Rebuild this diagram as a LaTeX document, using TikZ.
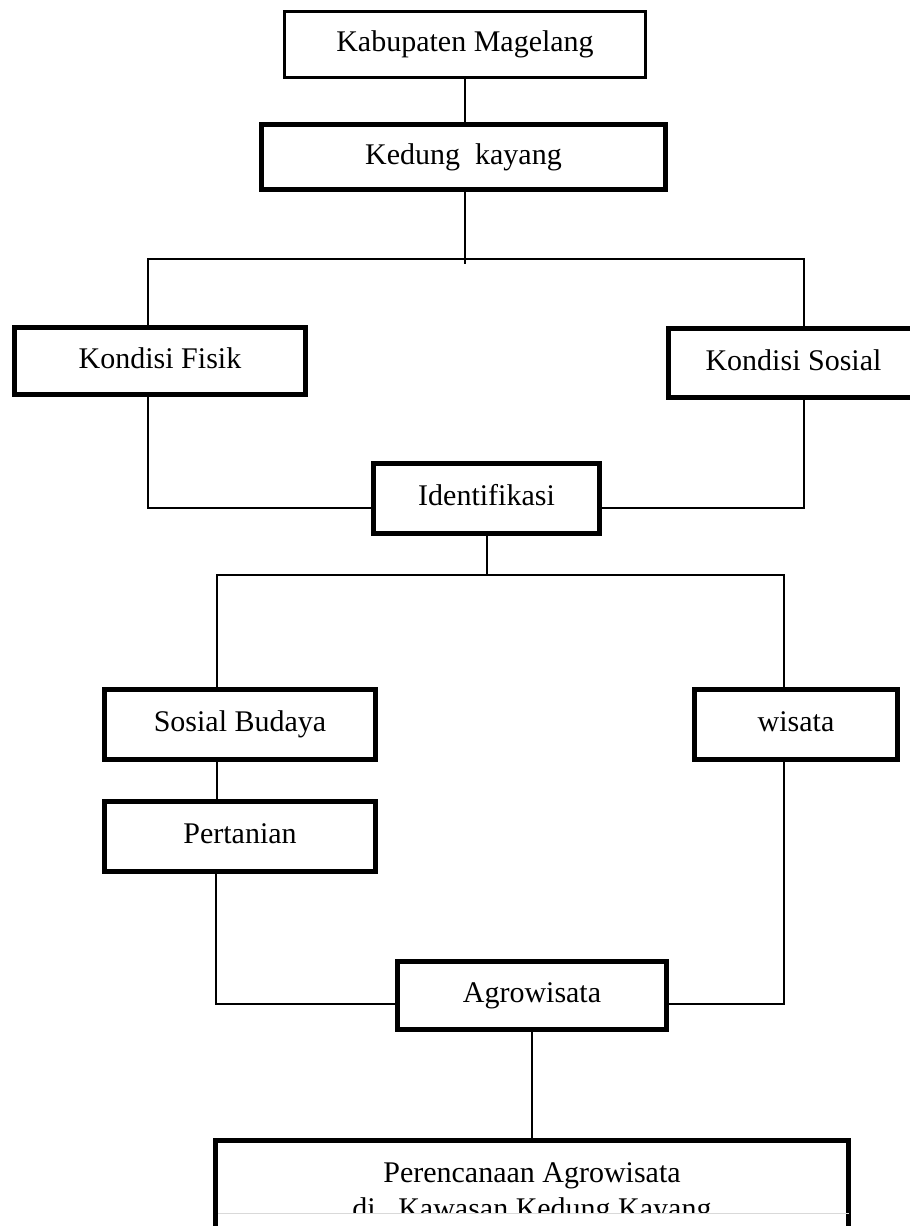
\documentclass[tikz,border=0pt]{standalone}
\usepackage{fontspec}
\setmainfont{Liberation Serif}
\begin{document}
\begin{tikzpicture}[x=1pt,y=1pt]
\tikzset{
  box/.style={draw, line width=3pt, inner sep=0pt, text height=21pt, text depth=6.6pt,
    font=\fontsize{30}{36}\selectfont},
  thickbox/.style={box, line width=5pt},
  conn/.style={line width=1.4pt},
  ftext/.style={inner sep=0pt, anchor=base, font=\fontsize{30}{36}\selectfont}
}
\useasboundingbox (0,0) rectangle (910,-1226);
\clip (0,0) rectangle (910,-1226);

\node[box, minimum width=361pt, minimum height=66pt] (kab) at (465,-44.5) {Kabupaten Magelang};
\node[thickbox, minimum width=404pt, minimum height=65pt] (ked) at (463.5,-157) {Kedung\ \ kayang};
\node[thickbox, minimum width=291pt, minimum height=67pt] (fisik) at (160,-361) {Kondisi Fisik};
\node[thickbox, minimum width=250pt, minimum height=69pt] (sosial) at (793.5,-363) {Kondisi Sosial};
\node[thickbox, minimum width=226pt, minimum height=70pt] (ident) at (486.5,-498.5) {Identifikasi};
\node[thickbox, minimum width=271pt, minimum height=70pt] (budaya) at (240,-724.5) {Sosial Budaya};
\node[thickbox, minimum width=203pt, minimum height=70pt] (wisata) at (796,-724.5) {wisata};
\node[thickbox, minimum width=271pt, minimum height=70pt] (tani) at (240,-836.5) {Pertanian};
\node[thickbox, minimum width=269pt, minimum height=68pt] (agro) at (532,-995.5) {Agrowisata};
\node[thickbox, minimum width=633pt, minimum height=150pt] (final) at (532,-1215.5) {};

\coordinate (cutl) at (215.5,-1213.5);
\begin{scope}
  \clip (cutl) rectangle (final.north east);
  \node[ftext] (ft1) at (532,-1182) {Perencanaan Agrowisata};
  \node[ftext] (ft2) at (532,-1218) {di\ \ \ Kawasan Kedung Kayang};
\end{scope}
\draw[gray!30, line width=1pt] ([xshift=2.5pt]cutl) -- ([xshift=-2.5pt]cutl -| final.east);

% connectors
\coordinate (j1) at (465,-264);
\coordinate (hl) at (148,-259);
\coordinate (hr) at (804,-259);
\coordinate (m1) at (148,-508);
\coordinate (m2) at (804,-508);
\coordinate (n1) at (217,-575);
\coordinate (n2) at (784,-575);
\coordinate (n0) at (487,-575);
\coordinate (p1) at (216,-1004);
\coordinate (p2) at (784,-1004);

\draw[conn] (kab.south) -- (kab.south |- ked.north);
\draw[conn] (ked.south -| j1) -- (j1);
\draw[conn] (fisik.north -| hl) -- (hl) -- (hr) -- (sosial.north -| hr);
\draw[conn] (fisik.south -| m1) -- (m1) -- (m1 -| ident.west);
\draw[conn] (sosial.south -| m2) -- (m2) -- (m2 -| ident.east);
\draw[conn] (ident.south -| n0) -- (n0);
\draw[conn] (budaya.north -| n1) -- (n1) -- (n2) -- (wisata.north -| n2);
\draw[conn] (budaya.south -| n1) -- (tani.north -| n1);
\draw[conn] (tani.south -| p1) -- (p1) -- (p1 -| agro.west);
\draw[conn] (wisata.south -| p2) -- (p2) -- (p2 -| agro.east);
\draw[conn] (agro.south) -- (final.north);
\end{tikzpicture}
\end{document}
